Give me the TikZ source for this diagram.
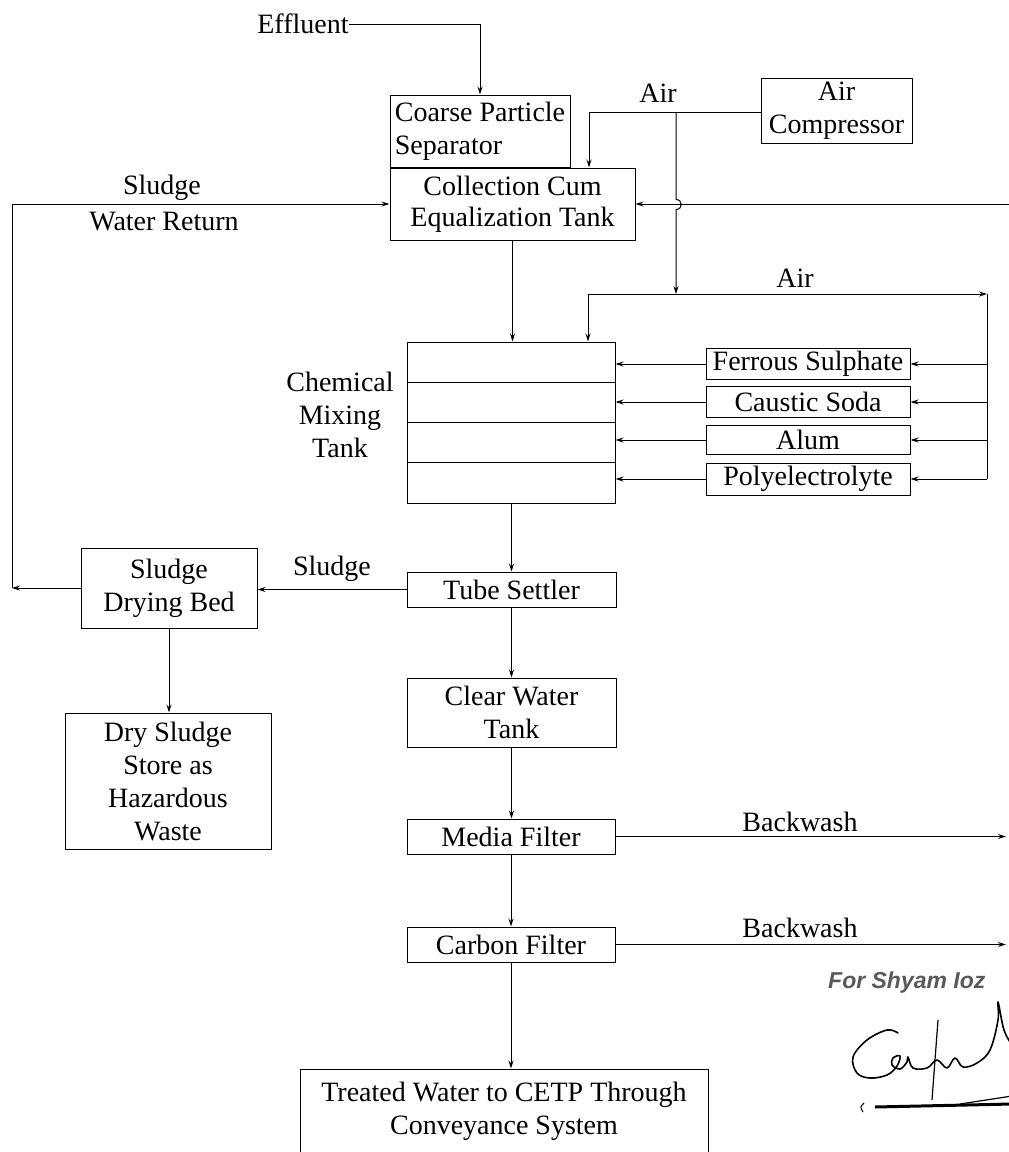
\documentclass[tikz,border=0pt]{standalone}
\usepackage{fontspec}
\setmainfont{Liberation Serif}
\newfontfamily\stampfont{Liberation Sans}
\usetikzlibrary{arrows.meta}
\newcommand\dfont{\fontsize{28}{33}\selectfont}
\tikzset{
  box/.style={draw, line width=1pt, inner sep=0pt, align=center, font=\dfont},
  lbl/.style={inner sep=0pt, align=center, font=\dfont},
  arr/.style={-{Stealth[length=8pt,width=5pt]}, line width=1pt},
  ln/.style={line width=1pt},
  sig/.style={line width=1.6pt, line cap=round, line join=round}
}
\begin{document}
\begin{tikzpicture}[x=1pt,y=-1pt]
\useasboundingbox (0,0) rectangle (1009,1152);
\clip (0,0) rectangle (1009,1152);

% ---- boxes ----
\node[box, align=left, minimum width=180pt, minimum height=72pt] (cps) at (480,131) {Coarse Particle\\Separator};
\node[box, minimum width=245pt, minimum height=72pt] (cct) at (512.5,204) {\raisebox{-2pt}{Collection Cum}\\Equalization Tank};
\node[box, minimum width=151pt, minimum height=65pt] (comp) at (836.5,110.5) {Air\\Compressor};
\node[box, minimum width=208pt, minimum height=161pt] (mix) at (511,422.5) {};
\draw[ln] (407,382) -- (615,382);
\draw[ln] (407,422) -- (615,422);
\draw[ln] (407,462) -- (615,462);
\node[box, minimum width=204pt, minimum height=31pt] (fer) at (808,364) {Ferrous Sulphate};
\node[box, minimum width=204pt, minimum height=31pt] (cau) at (808,402) {Caustic Soda};
\node[box, minimum width=204pt, minimum height=29pt] (alu) at (808,440) {Alum};
\node[box, minimum width=204pt, minimum height=32pt] (pol) at (808,479) {Polyelectrolyte};
\node[box, minimum width=209pt, minimum height=35pt] (tube) at (511.5,589.5) {Tube Settler};
\node[box, minimum width=176pt, minimum height=80pt] (bed) at (169,588) {Sludge\\Drying Bed};
\node[box, minimum width=206pt, minimum height=136pt] (dry) at (168,781) {Dry Sludge\\Store as\\Hazardous\\Waste};
\node[box, minimum width=209pt, minimum height=69pt] (clear) at (511.5,712.5) {Clear Water\\Tank};
\node[box, minimum width=208pt, minimum height=35pt] (media) at (511,836.5) {Media Filter};
\node[box, minimum width=208pt, minimum height=35pt] (carbon) at (511,944.5) {Carbon Filter};
\node[box, minimum width=408pt, minimum height=84pt] (treat) at (504,1111) {Treated Water to CETP Through\\Conveyance System};

% ---- labels ----
\node[lbl] (eff) at (303,24) {Effluent};
\node[lbl] (airA) at (658,93) {Air};
\node[lbl] (airB) at (795,278) {Air};
\node[lbl] (mixl) at (340,415) {Chemical\\Mixing\\Tank};
\node[lbl] (sw1) at (162,188) {Sludge};
\node[lbl] (sw2) at (164,222) {Water Return};
\node[lbl] (sl) at (332,569) {Sludge};
\node[lbl] (bw1) at (800,822) {Backwash};
\node[lbl] (bw2) at (800,928) {Backwash};

% ---- coordinates ----
\coordinate (ca) at (589,112);
\coordinate (j1) at (676,112);
\coordinate (j2) at (676,294);
\coordinate (la) at (588,294);
\coordinate (ra) at (987,294);
\coordinate (rb) at (987,479);
\coordinate (ret) at (1012,204);
\coordinate (sc) at (12,588);
\coordinate (bwa) at (1006,836.5);
\coordinate (bwb) at (1006,944.5);

% ---- connectors ----
\draw[arr] (eff.east) -| (cps.north);
\draw[arr] (comp.west |- ca) -- (ca) -- (ca |- cct.north);
\draw[arr] (j1) -- (676,199.5) .. controls (683,199.5) and (683,209.5) .. (676,209.5) -- (j2);
\draw[ln] (la) -- (j2);
\draw[arr] (j2) -- (ra);
\draw[ln] (ra) -- (rb);
\draw[arr] (la) -- (la |- mix.north);
\draw[arr] (ret) -- (cct.east);
\draw[arr] (cct.south) -- (cct.south |- mix.north);

\draw[arr] (fer.west) -- (fer.west -| mix.east);
\draw[arr] (cau.west) -- (cau.west -| mix.east);
\draw[arr] (alu.west) -- (alu.west -| mix.east);
\draw[arr] (pol.west) -- (pol.west -| mix.east);
\draw[arr] (fer.east -| ra) -- (fer.east);
\draw[arr] (cau.east -| ra) -- (cau.east);
\draw[arr] (alu.east -| ra) -- (alu.east);
\draw[arr] (pol.east -| ra) -- (pol.east);

\draw[arr] (mix.south -| tube.north) -- (tube.north);
\draw[arr] (tube.west) -- (tube.west -| bed.east);
\draw[arr] (bed.west) -- (sc);
\draw[arr] (sc) |- (cct.west);
\draw[arr] (bed.south) -- (bed.south |- dry.north);
\draw[arr] (tube.south) -- (tube.south |- clear.north);
\draw[arr] (clear.south) -- (clear.south |- media.north);
\draw[arr] (media.south) -- (carbon.north);
\draw[arr] (carbon.south) -- (carbon.south |- treat.north);
\draw[arr] (media.east) -- (bwa);
\draw[arr] (carbon.east) -- (bwb);

% ---- stamp and signature ----
\node[inner sep=0pt, anchor=west, text=black!65, font=\stampfont\bfseries\itshape\fontsize{23}{25}\selectfont] (stamp) at (828,983) {For Shyam Ioz};
\draw[sig] plot[smooth, tension=0.6] coordinates {(898,1033) (887,1030) (867,1040) (853,1057) (857,1073) (870,1078) (887,1075) (897,1066) (900,1056) (893,1058) (892,1065) (900,1069) (907,1062) (908,1057) (913,1068) (927,1068) (937,1060) (947,1068) (955,1058) (963,1067) (977,1063) (990,1050) (998,1020) (998,1002) (1004,1030) (1012,1045)};
\draw[line width=1.2pt] (938,1020) -- (932,1100);
\draw[line width=3pt] (875,1107) -- (1012,1104);
\draw[line width=1.2pt] (960,1104) -- (1012,1096);
\draw[line width=1pt] (864,1103) .. controls (860,1107) .. (863,1112);
\end{tikzpicture}
\end{document}
